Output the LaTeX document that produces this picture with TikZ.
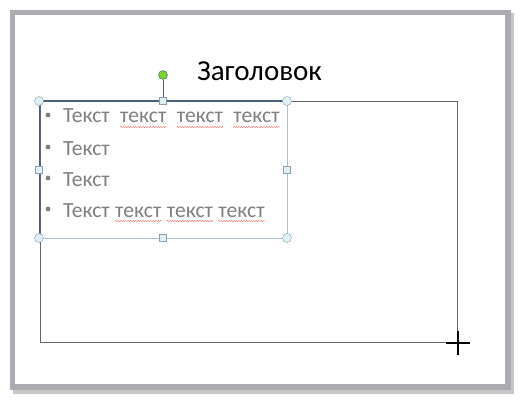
\documentclass[tikz,border=0pt]{standalone}
\usepackage{fontspec}
\setmainfont{Carlito}
\usetikzlibrary{positioning,calc,decorations.pathmorphing}
\definecolor{frame}{RGB}{170,172,177}
\definecolor{selline}{RGB}{74,96,122}
\definecolor{boxline}{RGB}{176,190,206}
\definecolor{handle}{RGB}{223,240,245}
\definecolor{handleline}{RGB}{140,160,178}
\definecolor{bodytext}{RGB}{128,128,128}
\definecolor{rotgreen}{RGB}{125,210,45}
\tikzset{
  word/.style={inner sep=0pt, text=bodytext, font=\fontsize{21.6}{21.6}\selectfont},
  spell/.style={red!60, line width=0.4pt, decorate, decoration={snake, amplitude=0.6pt, segment length=2.5pt}},
  corner/.style={circle, draw=handleline, fill=handle, minimum size=9pt, inner sep=0pt},
  side/.style={rectangle, draw=handleline, fill=handle, minimum size=7pt, inner sep=0pt},
}
\begin{document}
\begin{tikzpicture}[x=1pt,y=-1pt]
    \useasboundingbox (0,0) rectangle (522,401);
    % slide
    \fill[black!22] (13,13) rectangle (514,394);
    \fill[frame] (10,10) rectangle (511,390);
    \fill[white] (15,15) rectangle (505,384);
    \node[font=\fontsize{29}{29}\selectfont, anchor=base] (title) at (259.5,81) {Заголовок};
    % rectangle being drawn
    \coordinate (r1) at (40,101);
    \coordinate (r2) at (457,342);
    \draw[black!60] (r1) rectangle (r2);
    % text box
    \coordinate (a) at (39,101);
    \coordinate (b) at (287,101);
    \coordinate (c) at (287,238);
    \coordinate (d) at (39,238);
    \draw[boxline] (b) -- (c) -- (d);
    \draw[selline] (d) -- (a);
    \draw[selline, line width=1.6pt] (a) -- (b);
    \foreach \y in {115,147,178,209} {\fill[bodytext] (48,\y) circle (2.4pt);}
    \node[word, anchor=base west] (w11) at (63,123) {Текст};
    \node[word, base right=10pt of w11] (w12) {текст};
    \node[word, base right=10pt of w12] (w13) {текст};
    \node[word, base right=10pt of w13] (w14) {текст};
    \node[word, anchor=base west] (w2) at (63,155) {Текст};
    \node[word, anchor=base west] (w3) at (63,186) {Текст};
    \node[word, anchor=base west] (w41) at (63,217) {Текст};
    \node[word, base right=5pt of w41] (w42) {текст};
    \node[word, base right=5pt of w42] (w43) {текст};
    \node[word, base right=5pt of w43] (w44) {текст};
    \foreach \w in {w12,w13,w14,w42,w43,w44}
        {\draw[spell] ([yshift=-4pt]\w.base west) -- ([yshift=-4pt]\w.base east);}
    % handles
    \node[corner] (tl) at (a) {};
    \node[corner] (tr) at (b) {};
    \node[corner] (br) at (c) {};
    \node[corner] (bl) at (d) {};
    \node[side] (tm) at ($(a)!0.5!(b)$) {};
    \node[side] (bm) at ($(d)!0.5!(c)$) {};
    \node[side] (lm) at ($(a)!0.5!(d)$) {};
    \node[side] (rm) at ($(b)!0.5!(c)$) {};
    \node[corner, draw=selline, fill=rotgreen] (rot) at (163,75) {};
    \draw[selline] (rot) -- (tm);
    % cursor
    \coordinate (cur) at (458,343);
    \draw[line width=2pt] ([xshift=-12pt]cur) -- ([xshift=12pt]cur);
    \draw[line width=2pt] ([yshift=12pt]cur) -- ([yshift=-12pt]cur);
\end{tikzpicture}
\end{document}
